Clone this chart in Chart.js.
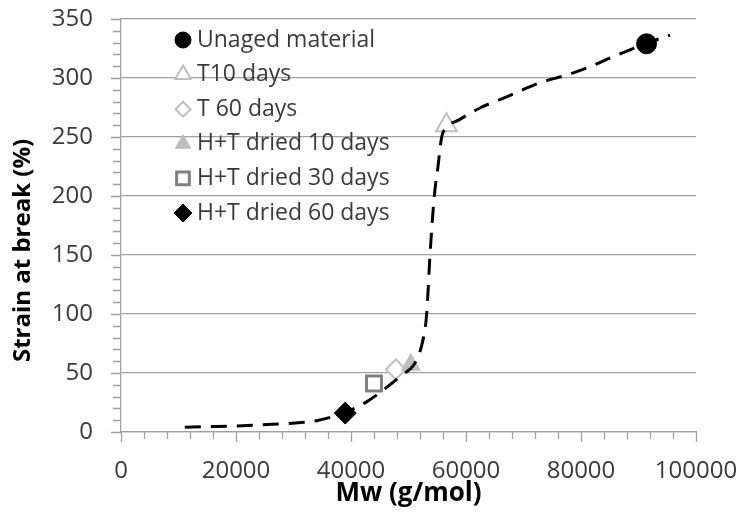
<!DOCTYPE html>
<html>
<head>
<meta charset="utf-8">
<script src="https://cdn.jsdelivr.net/npm/chart.js@4/dist/chart.umd.min.js"></script>
<style>
  html, body { margin: 0; padding: 0; background: #ffffff; }
  #wrap { width: 739px; height: 516px; }
</style>
</head>
<body>
<div id="wrap"><canvas id="c" width="739" height="516"></canvas></div>
<script>
// ---- data ----
const seriesLabels = ['Unaged material', 'T10 days', 'T 60 days', 'H+T dried 10 days', 'H+T dried 30 days', 'H+T dried 60 days'];
const seriesMw     = [91400, 56600, 47800, 50400, 44000, 39000];
const seriesStrain = [329, 260, 53, 57, 41, 16];

// dashed guide curve
const fitMw     = [11100, 14900, 19500, 24700, 29400, 34000, 38600, 42700, 45600, 48500, 51400, 52600, 53160, 53740, 54490, 55130, 55770, 56400, 58780, 62430, 67070, 72870, 77510, 81570, 85570, 91420, 95480];
const fitStrain = [4, 4.5, 5, 6.2, 7.3, 9.6, 16, 25.5, 35.6, 47, 61, 80, 100, 150, 200, 225, 250, 257, 264.5, 274.6, 284, 296, 302.5, 309.6, 318, 329.4, 336.4];

const xTickValues = [0, 20000, 40000, 60000, 80000, 100000];
const yTickValues = [0, 50, 100, 150, 200, 250, 300, 350];

const xTitle = 'Mw (g/mol)';
const yTitle = 'Strain at break (%)';

// ---- styles ----
const markerStyles = [
  { pointStyle: 'circle',   radius: 10, legendRadius: 8,   bg: '#000000', border: '#000000', bw: 1 },
  { pointStyle: 'triangle', radius: 12, legendRadius: 9,   bg: '#ffffff', border: '#bfbfbf', bw: 2 },
  { pointStyle: 'rectRot',  radius: 10, legendRadius: 7.5, bg: '#ffffff', border: '#bfbfbf', bw: 2 },
  { pointStyle: 'triangle', radius: 11, legendRadius: 9,   bg: '#bfbfbf', border: '#bfbfbf', bw: 1 },
  { pointStyle: 'rect',     radius: 10.6, legendRadius: 9, bg: '#ffffff', border: '#808080', bw: 3 },
  { pointStyle: 'rectRot',  radius: 11, legendRadius: 9,   bg: '#000000', border: '#000000', bw: 1 }
];
const AXIS_COLOR = '#a0a0a0';
const TEXT_COLOR = '#3a3a3a';

const datasets = seriesLabels.map((label, i) => ({
  label: label,
  data: [{ x: seriesMw[i], y: seriesStrain[i] }],
  pointStyle: markerStyles[i].pointStyle,
  pointRadius: markerStyles[i].radius,
  pointHoverRadius: markerStyles[i].radius,
  pointBackgroundColor: markerStyles[i].bg,
  pointBorderColor: markerStyles[i].border,
  pointBorderWidth: markerStyles[i].bw,
  showLine: false,
  order: 20 - i,
  isSeries: true,
  legendRadius: markerStyles[i].legendRadius
}));

datasets.push({
  label: 'fit',
  data: fitMw.map((x, i) => ({ x: x, y: fitStrain[i] })),
  showLine: true,
  borderColor: '#000000',
  borderWidth: 3,
  borderDash: [16, 10],
  borderCapStyle: 'butt',
  pointRadius: 0,
  pointHoverRadius: 0,
  cubicInterpolationMode: 'monotone',
  fill: false,
  order: 0,
  isSeries: false
});

// minor / major tick marks drawn from the scales
const tickMarks = {
  id: 'tickMarks',
  beforeDatasetsDraw(chart) {
    const ctx = chart.ctx;
    const xs = chart.scales.x, ys = chart.scales.y;
    ctx.save();
    ctx.strokeStyle = AXIS_COLOR;
    ctx.lineWidth = 1.3;
    ctx.beginPath();
    for (let v = 0; v <= 100000; v += 4000) {
      const px = Math.round(xs.getPixelForValue(v)) + 0.5;
      const major = v % 20000 === 0;
      const y0 = ys.getPixelForValue(0);
      ctx.moveTo(px, y0);
      ctx.lineTo(px, y0 + (major ? 10 : 7));
    }
    for (let v = 0; v <= 350; v += 10) {
      const py = Math.round(ys.getPixelForValue(v)) + 0.5;
      const major = v % 50 === 0;
      const x0 = xs.getPixelForValue(0);
      ctx.moveTo(x0, py);
      ctx.lineTo(x0 - (major ? 10 : 8), py);
    }
    ctx.stroke();
    ctx.restore();
  }
};

// legend drawn inside the plot area
const innerLegend = {
  id: 'innerLegend',
  afterDatasetsDraw(chart) {
    const ctx = chart.ctx;
    const H = Chart.helpers;
    const x0 = 183, y0 = 40, step = 34.6;
    let row = 0;
    chart.data.datasets.forEach((ds) => {
      if (!ds.isSeries) return;
      const y = y0 + step * row;
      ctx.save();
      ctx.fillStyle = ds.pointBackgroundColor;
      ctx.strokeStyle = ds.pointBorderColor;
      ctx.lineWidth = ds.pointBorderWidth;
      H.drawPoint(ctx, { pointStyle: ds.pointStyle, radius: ds.legendRadius, rotation: 0, borderWidth: ds.pointBorderWidth }, x0, y);
      ctx.restore();
      ctx.save();
      ctx.fillStyle = TEXT_COLOR;
      ctx.font = '23px "Open Sans"';
      ctx.textBaseline = 'middle';
      ctx.textAlign = 'left';
      ctx.fillText(ds.label, x0 + 14, y);
      ctx.restore();
      row++;
    });
  }
};

new Chart(document.getElementById('c'), {
  type: 'scatter',
  data: { datasets: datasets },
  plugins: [tickMarks, innerLegend],
  options: {
    responsive: false,
    animation: false,
    devicePixelRatio: 1,
    layout: { padding: { left: 0, top: 19, right: 43, bottom: 0 } },
    plugins: {
      legend: { display: false },
      tooltip: { enabled: false }
    },
    scales: {
      x: {
        type: 'linear',
        min: 0,
        max: 100000,
        afterBuildTicks: (s) => { s.ticks = xTickValues.map(v => ({ value: v })); },
        afterFit: (s) => { s.height = 84; s.paddingLeft = 0; s.paddingRight = 0; },
        ticks: {
          padding: 25,
          color: TEXT_COLOR,
          font: { family: '"Open Sans"', size: 24 },
          maxRotation: 0,
          autoSkip: false,
          callback: (v) => String(v)
        },
        grid: { display: false, drawTicks: false },
        border: { display: true, color: AXIS_COLOR, width: 1.3 },
        title: {
          display: true,
          text: xTitle,
          color: '#000000',
          font: { family: '"Open Sans"', size: 26, weight: 'bold' },
          padding: { top: 0, bottom: 7 }
        }
      },
      y: {
        type: 'linear',
        min: 0,
        max: 350,
        afterBuildTicks: (s) => { s.ticks = yTickValues.map(v => ({ value: v })); },
        afterFit: (s) => { s.width = 121; s.paddingTop = 0; s.paddingBottom = 0; },
        ticks: {
          padding: 28,
          color: TEXT_COLOR,
          font: { family: '"Open Sans"', size: 24 },
          autoSkip: false,
          callback: (v) => String(v)
        },
        grid: { display: true, drawTicks: false, color: AXIS_COLOR, lineWidth: 1.3 },
        border: { display: true, color: AXIS_COLOR, width: 1.3 },
        title: {
          display: true,
          text: yTitle + '\u00a0\u00a0\u00a0\u00a0\u00a0\u00a0\u00a0\u00a0',
          color: '#000000',
          font: { family: '"Open Sans"', size: 24, weight: 'bold' },
          padding: { top: 9, bottom: 0 }
        }
      }
    }
  }
});
</script>
</body>
</html>
